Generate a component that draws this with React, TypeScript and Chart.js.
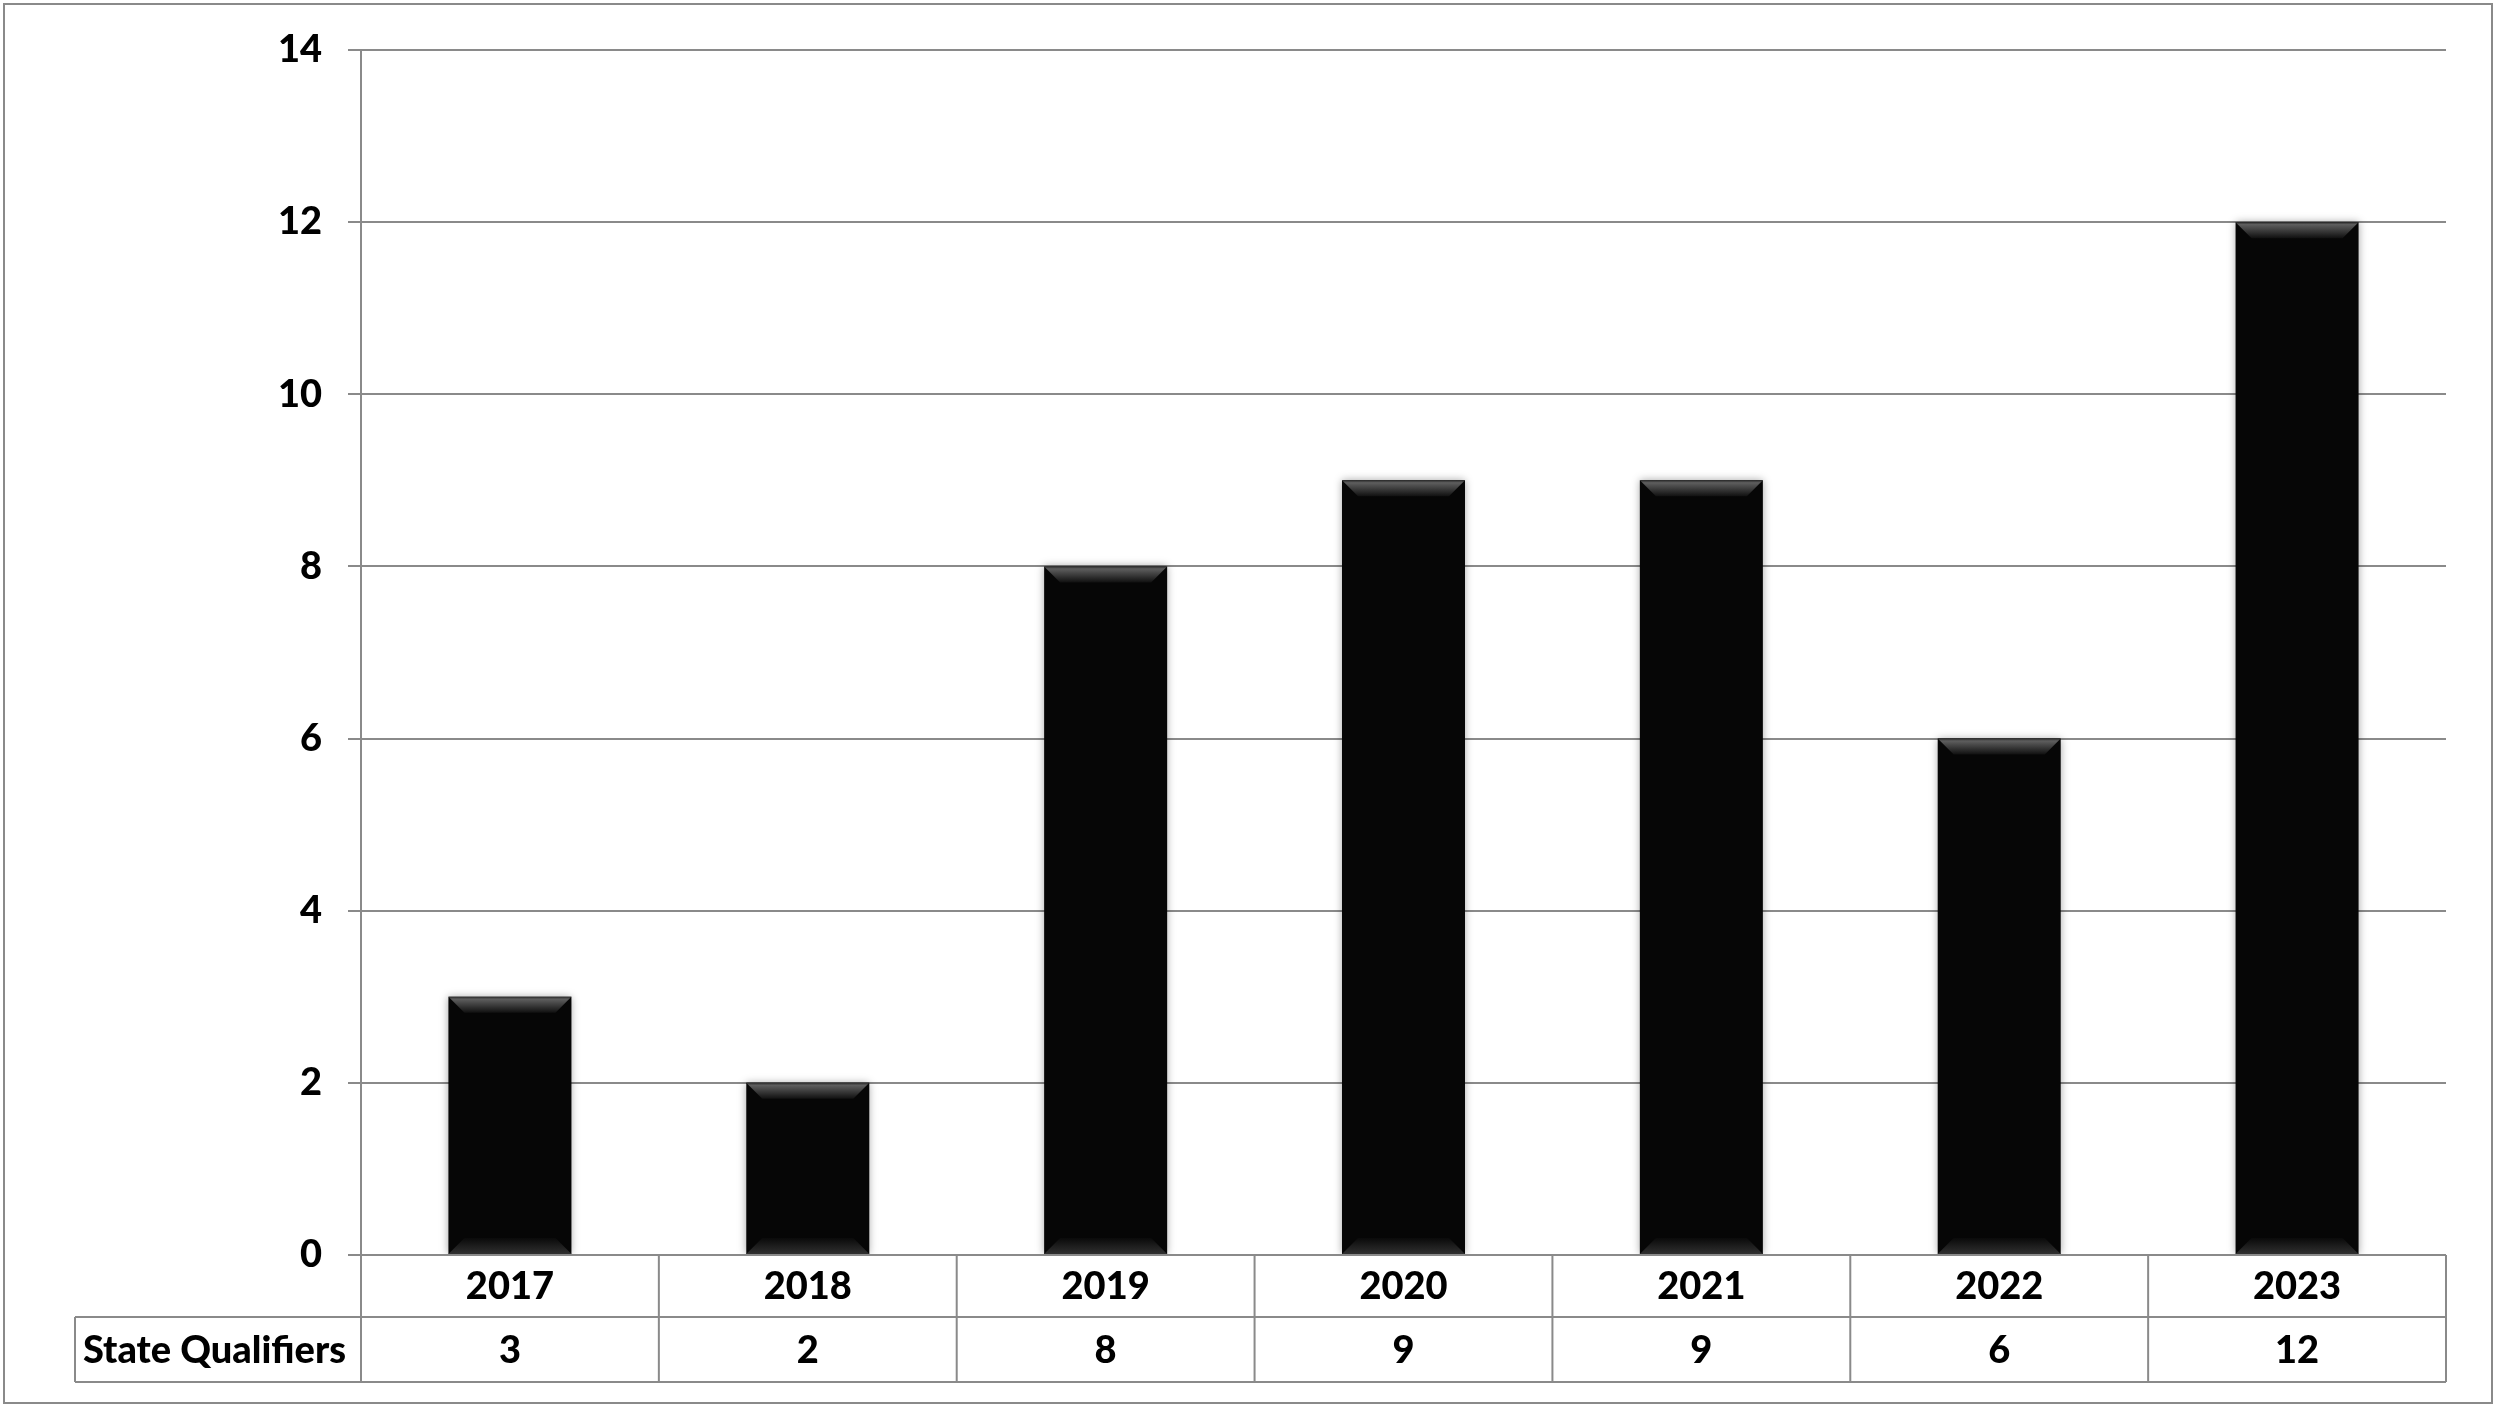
import React, { useEffect, useRef } from "react";
import { Chart, registerables } from "chart.js";

Chart.register(...registerables);

const years = ["2017", "2018", "2019", "2020", "2021", "2022", "2023"];
const stateQualifiers = [3, 2, 8, 9, 9, 6, 12];
const rowLabel = "State Qualifiers";
const yMin = 0;
const yMax = 14;
const yStep = 2;

const W = 2500;
const H = 1412;
const GRAY = "#8a8a8a";
const FONT = "Lato, 'Open Sans', sans-serif";
const FONT_SIZE = 38;
const FONT_WEIGHT = "900";

const framePlugin = {
  id: "frame",
  beforeDatasetsDraw(chart: any) {
    const ctx = chart.ctx;
    ctx.save();
    ctx.shadowColor = "rgba(0,0,0,0.35)";
    ctx.shadowBlur = 8;
    ctx.shadowOffsetX = 0;
    ctx.shadowOffsetY = 0;
  },
  afterDatasetsDraw(chart: any) {
    const ctx = chart.ctx;
    ctx.restore();
    const meta = chart.getDatasetMeta(0);
    meta.data.forEach((bar: any) => {
      const w = bar.width;
      const l = bar.x - w / 2;
      const r = bar.x + w / 2;
      const t = bar.y;
      const bt = bar.base;
      const b = 16;
      ctx.save();
      let g = ctx.createLinearGradient(0, t, 0, t + b);
      g.addColorStop(0, "#2a2a2a");
      g.addColorStop(0.15, "#5e5e5e");
      g.addColorStop(1, "#101010");
      ctx.fillStyle = g;
      ctx.beginPath();
      ctx.moveTo(l, t);
      ctx.lineTo(r, t);
      ctx.lineTo(r - b, t + b);
      ctx.lineTo(l + b, t + b);
      ctx.closePath();
      ctx.fill();
      g = ctx.createLinearGradient(0, bt - b, 0, bt);
      g.addColorStop(0, "#0a0a0a");
      g.addColorStop(1, "#303030");
      ctx.fillStyle = g;
      ctx.beginPath();
      ctx.moveTo(l, bt);
      ctx.lineTo(r, bt);
      ctx.lineTo(r - b, bt - b);
      ctx.lineTo(l + b, bt - b);
      ctx.closePath();
      ctx.fill();
      ctx.restore();
    });
  },
  afterDraw(chart: any) {
    const ctx = chart.ctx;
    const area = chart.chartArea;
    const xs = chart.scales.x;
    const n = years.length;
    const catW = (area.right - area.left) / n;
    const row1Top = area.bottom;
    const row1Bot = 1317;
    const row2Bot = 1382;
    const labelLeft = 75;
    ctx.save();
    ctx.strokeStyle = GRAY;
    ctx.lineWidth = 2;
    // outer border
    ctx.strokeRect(4, 4, 2488, 1399);
    // table
    ctx.beginPath();
    ctx.moveTo(area.left, row1Top);
    ctx.lineTo(area.right, row1Top);
    ctx.moveTo(labelLeft, row1Bot);
    ctx.lineTo(area.right, row1Bot);
    ctx.moveTo(labelLeft, row2Bot);
    ctx.lineTo(area.right, row2Bot);
    ctx.moveTo(labelLeft, row1Bot);
    ctx.lineTo(labelLeft, row2Bot);
    for (let i = 0; i <= n; i++) {
      const x = area.left + i * catW;
      ctx.moveTo(x, row1Top);
      ctx.lineTo(x, row2Bot);
    }
    ctx.stroke();
    ctx.fillStyle = "#000";
    ctx.font = `${FONT_WEIGHT} ${FONT_SIZE}px ${FONT}`;
    ctx.textBaseline = "middle";
    ctx.textAlign = "center";
    years.forEach((y, i) => {
      const cx = xs.getPixelForValue(i);
      ctx.fillText(y, cx, (row1Top + row1Bot) / 2 + 1);
      ctx.fillText(String(stateQualifiers[i]), cx, (row1Bot + row2Bot) / 2 + 1);
    });
    ctx.textAlign = "left";
    ctx.fillText(rowLabel, 83, (row1Bot + row2Bot) / 2 + 1);
    ctx.restore();
  },
};

export default function App() {
  const ref = useRef<HTMLCanvasElement | null>(null);
  useEffect(() => {
    if (!ref.current) return;
    const chart = new Chart(ref.current, {
      type: "bar",
      data: {
        labels: years,
        datasets: [
          {
            label: rowLabel,
            data: stateQualifiers,
            backgroundColor: "#060606",
            borderWidth: 0,
            barPercentage: 0.413,
            categoryPercentage: 1,
          },
        ],
      },
      options: {
        animation: false,
        responsive: false,
        maintainAspectRatio: false,
        devicePixelRatio: 1,
        layout: { padding: { top: 50, bottom: H - 1255, left: 0, right: W - 2446 } },
        plugins: { legend: { display: false }, tooltip: { enabled: false } },
        scales: {
          x: { display: false },
          y: {
            min: yMin,
            max: yMax,
            afterFit(scale: any) {
              scale.width = 361;
            },
            ticks: {
              stepSize: yStep,
              color: "#000",
              padding: 26,
              font: { family: FONT, size: FONT_SIZE, weight: FONT_WEIGHT },
            },
            grid: { color: GRAY, lineWidth: 2, tickLength: 13, drawTicks: true },
            border: { display: true, color: GRAY, width: 2 },
          },
        },
      },
      plugins: [framePlugin],
    });
    return () => chart.destroy();
  }, []);
  return (
    <div style={{ position: "fixed", left: 0, top: 0, width: W, height: H, background: "#fff" }}>
      <canvas ref={ref} width={W} height={H} style={{ width: W, height: H, display: "block" }} />
    </div>
  );
}
